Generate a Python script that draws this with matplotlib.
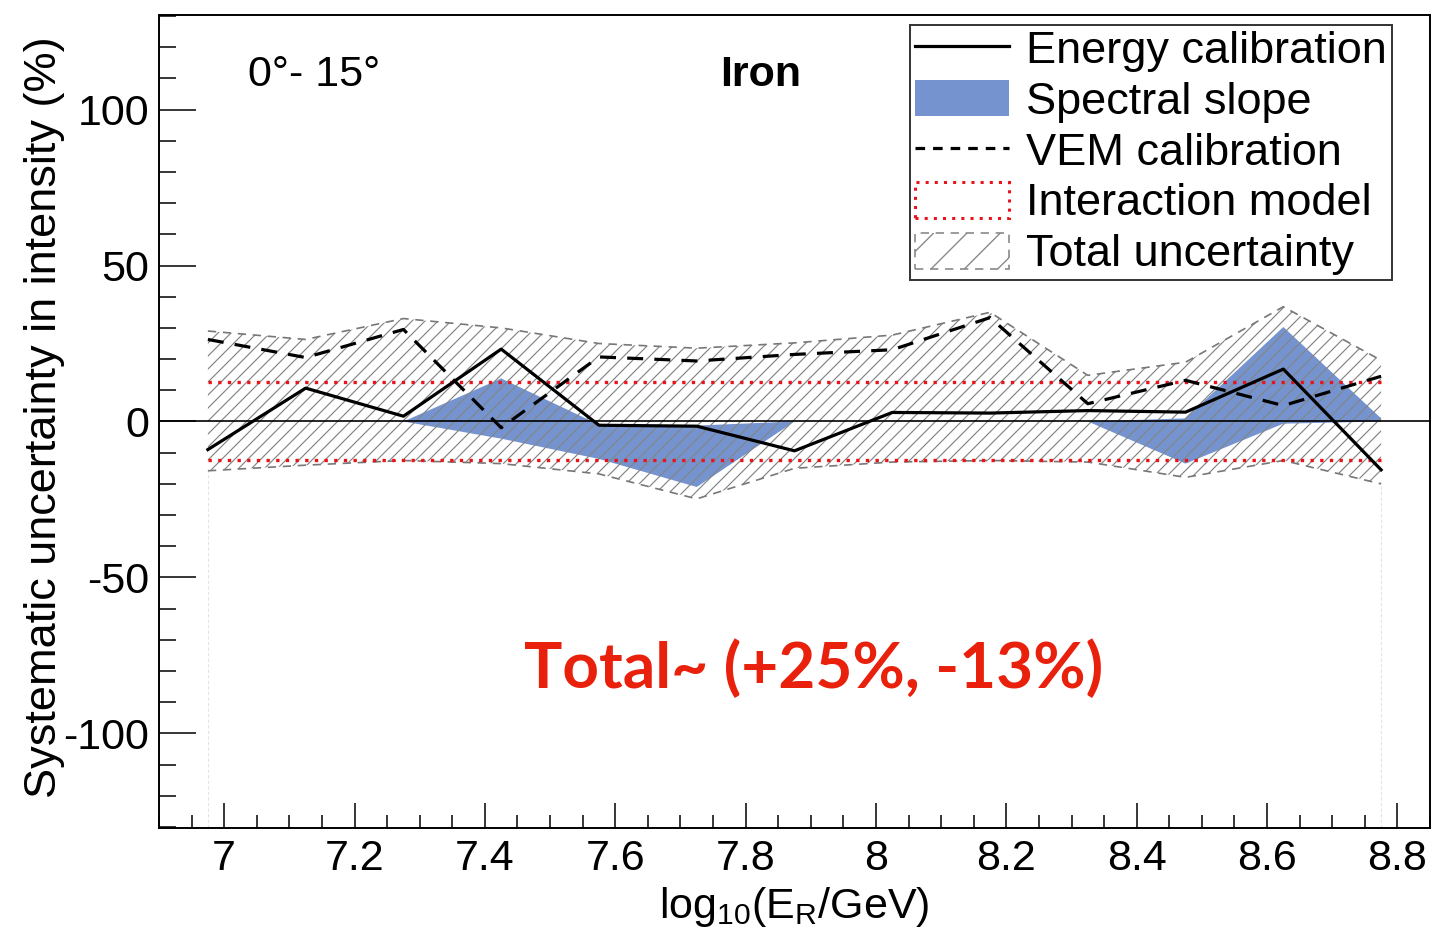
import numpy as np
import matplotlib
matplotlib.use("Agg")
import matplotlib.pyplot as plt
from matplotlib.collections import LineCollection
from matplotlib.lines import Line2D
from matplotlib.patches import Patch

plt.rcParams['font.family'] = ['Liberation Sans', 'DejaVu Sans']
plt.rcParams['mathtext.default'] = 'regular'
plt.rcParams['axes.unicode_minus'] = False

# bin centres in log10(E/GeV)
log_e = [6.975, 7.125, 7.275, 7.425, 7.575, 7.725, 7.875,
         8.025, 8.175, 8.325, 8.475, 8.625, 8.775]

# systematic shifts (%)
energy_cal = [-9.0, 10.7, 1.7, 23.2, -1.2, -1.5, -9.4, 2.9, 2.7, 3.5, 3.0, 16.8, -15.5]
vem_cal = [26.3, 20.5, 29.5, -2.0, 20.7, 19.4, 21.5, 23.0, 33.3, 5.7, 13.2, 5.1, 14.5]
slope_hi = [0, 0, 0, 13.8, -1.0, -1.3, 0, 0, 0, 0, 1.0, 30.3, 1.0]
slope_lo = [0, 0, 0, -5.5, -12.0, -21.0, 0, 0, 0, 0, -13.5, -0.7, 0]
total_hi = [29.0, 26.3, 33.0, 30.0, 25.0, 23.5, 25.2, 27.7, 35.0, 14.8, 19.0, 36.8, 19.6]
total_lo = [-15.8, -14.0, -12.5, -13.5, -16.8, -24.8, -15.0, -13.0, -12.5, -13.0, -17.9, -12.5, -20.0]
inter_hi = 12.8
inter_lo = -12.4

W, H = 1431, 950
fig = plt.figure(figsize=(W / 100, H / 100), dpi=100)
ax = fig.add_axes([159 / W, 1 - 828 / H, 1271 / W, 813 / H])
ax.set_xlim(6.9, 8.85)
ax.set_ylim(-130.3, 130.3)

blue = '#7493cf'
ax.fill_between(log_e, slope_lo, slope_hi, facecolor=blue, edgecolor='none', zorder=1)

# total band: outline + diagonal hatch clipped to the band
band = ax.fill_between(log_e, total_lo, total_hi, facecolor='none', edgecolor='none', zorder=2)
aw, ah = 1271.0, 813.0
segs = [[(s / aw, 0), ((s + ah) / aw, 1)] for s in np.arange(-ah, aw, 13.0)]
hatch = LineCollection(segs, colors='#858585', linewidths=0.85, transform=ax.transAxes, zorder=2)
ax.add_collection(hatch)
hatch.set_clip_path(band.get_paths()[0], ax.transData)
ax.plot(log_e, total_hi, color='#777777', lw=1.2, ls=(0, (5, 4)), zorder=2)
ax.plot(log_e, total_lo, color='#777777', lw=1.2, ls=(0, (5, 4)), zorder=2)
ax.vlines([log_e[0], log_e[-1]], -130.3, [total_lo[0], total_lo[-1]],
          colors='#e4e4e4', lw=0.8, ls=(0, (3, 2)), zorder=1)

# interaction model
ax.hlines([inter_hi, inter_lo], log_e[0], log_e[-1], colors='#e8141c', lw=2.4,
          linestyles=(0, (1, 1.9)), zorder=3)

ax.axhline(0, color='black', lw=1.2, zorder=3)

ax.plot(log_e, energy_cal, color='black', lw=2.3, zorder=4)
ax.plot(log_e, vem_cal, color='black', lw=2.3, ls=(0, (5, 3.5)), zorder=4)

# axes styling
for sp in ax.spines.values():
    sp.set_linewidth(1.4)
ax.xaxis.set_major_locator(plt.MultipleLocator(0.2))
ax.xaxis.set_minor_locator(plt.MultipleLocator(0.05))
ax.yaxis.set_major_locator(plt.MultipleLocator(50))
ax.yaxis.set_minor_locator(plt.MultipleLocator(10))
ax.xaxis.set_major_formatter(plt.FormatStrFormatter('%g'))
ax.tick_params(axis='both', which='both', direction='in', labelsize=31, width=1.1)
ax.tick_params(axis='x', which='major', length=18, pad=8)
ax.tick_params(axis='x', which='minor', length=9.5)
ax.tick_params(axis='y', which='major', length=26.5, pad=7)
ax.tick_params(axis='y', which='minor', length=12)

ax.set_xlabel('log$_{10}$(E$_{R}$/GeV)', fontsize=31)
ax.xaxis.set_label_coords(0.5, -0.07)
ax.set_ylabel('Systematic uncertainty in intensity (%)', fontsize=32.5)
ax.yaxis.set_label_coords(-0.074, 0.505)

ax.text(7.036, 107.4, '0°- 15°', fontsize=31, va='baseline')
ax.text(7.761, 107.4, 'Iron', fontsize=31, fontweight='bold', va='baseline')
ax.text(7.905, -85.5, 'Total~ (+25%, -13%)', fontsize=46, color='#e8200c',
        family='Lato', fontweight='bold', ha='center', va='baseline')

handles = [
    Line2D([], [], color='black', lw=2.3),
    Patch(facecolor=blue, edgecolor='none'),
    Line2D([], [], color='black', lw=2.3, ls=(0, (3, 2.5))),
    Patch(facecolor='white', edgecolor='#e8141c', lw=2.2, ls=(0, (1, 2.0))),
    Patch(facecolor='none', edgecolor='#8a8a8a', hatch='/', lw=1.2, ls=(0, (5, 4))),
]
labels = ['Energy calibration', 'Spectral slope', 'VEM calibration',
          'Interaction model', 'Total uncertainty']
leg = ax.legend(handles, labels, loc='upper left', bbox_to_anchor=(910 / W, 1 - 25 / H),
                bbox_transform=fig.transFigure, fontsize=32.5, frameon=True, fancybox=False,
                borderaxespad=0, borderpad=0.1, handlelength=2.1, handleheight=0.85,
                handletextpad=0.38, labelspacing=0.18)
leg.get_frame().set_edgecolor('black')
leg.get_frame().set_linewidth(1.4)

fig.savefig('out.png', dpi=100)
